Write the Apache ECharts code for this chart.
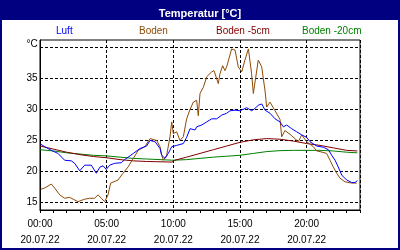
<!DOCTYPE html>
<html><head><meta charset="utf-8">
<script src="https://cdn.jsdelivr.net/npm/echarts@6/dist/echarts.min.js"></script>
<style>html,body{margin:0;padding:0;background:#fff}#c{width:400px;height:250px}</style>
</head><body><div id="c"></div>
<script>
var seriesNames = ['Luft', 'Boden', 'Boden -5cm', 'Boden -20cm'];
var seriesColors = ['#0000ff', '#8f4a06', '#800000', '#008000'];

var luftH = [0.05,0.35,0.85,1.35,1.85,2.35,2.6,2.98,3.35,3.85,4.22,4.5,4.73,4.97,5.23,5.6,6.1,6.35,7.0,7.5,8.0,8.25,8.63,9.0,9.13,9.38,9.62,9.88,10.25,10.75,11.0,11.25,11.63,11.75,12.13,12.5,12.88,13.25,13.63,14.0,14.25,14.63,15.0,15.13,15.5,15.88,16.13,16.37,16.63,16.88,17.25,17.63,18.0,18.25,18.5,18.88,19.25,19.63,20.0,20.25,20.75,21.25,21.63,21.88,22.13,22.37,22.63,23.0,23.38,23.63,23.8];
var luftV = [24.4,24.0,23.4,22.9,21.8,21.7,21.3,20.1,21.0,21.0,19.7,20.7,20.9,20.3,21.0,21.3,21.4,21.9,22.9,23.7,24.1,25.0,24.8,23.7,22.6,22.1,22.9,24.0,24.2,24.5,25.5,26.9,26.7,27.2,27.5,28.0,28.5,28.5,29.1,29.4,29.8,29.9,29.8,29.5,30.3,29.8,30.2,30.7,30.9,29.9,29.4,28.5,28.0,27.2,27.5,26.9,26.4,25.9,25.5,24.8,24.1,23.9,23.5,22.6,21.8,20.7,19.4,18.6,18.2,18.2,18.5];

var bodenH = [0.05,0.35,0.85,1.1,1.48,1.85,2.23,2.48,2.85,3.35,3.73,4.1,4.35,4.6,4.85,5.1,5.3,5.85,6.23,6.6,7.0,7.37,7.87,8.25,8.75,9.0,9.13,9.25,9.5,9.75,9.88,10.0,10.25,10.5,10.75,11.0,11.25,11.5,11.75,11.87,12.0,12.25,12.5,12.88,13.05,13.25,13.37,13.5,13.7,13.87,14.0,14.37,14.63,14.87,15.13,15.37,15.63,15.87,16.0,16.37,16.63,16.75,16.88,17.0,17.25,17.63,18.0,18.13,18.37,18.75,19.12,19.37,19.63,20.0,20.5,20.75,21.0,21.5,21.75,22.0,22.25,22.5,22.88,23.38,23.75];
var bodenV = [17.1,17.3,17.95,17.3,16.2,15.65,15.8,15.5,15.1,15.5,15.65,15.65,16.2,15.65,15.1,16.2,18.1,18.6,19.7,20.7,22.1,23.4,24.0,25.3,25.0,24.0,22.6,21.8,22.6,25.6,28.0,26.1,26.4,25.0,25.6,28.5,30.0,31.2,31.5,29.0,32.6,33.6,35.3,36.1,36.3,35.0,34.2,35.8,37.1,36.3,36.9,39.8,39.6,36.9,36.1,38.0,39.8,35.8,32.6,38.0,36.9,35.0,33.0,30.4,31.2,29.8,28.4,25.6,26.6,26.0,25.3,24.8,25.9,24.8,24.0,23.3,23.2,22.9,21.8,20.7,19.7,18.9,18.3,18.1,18.1];

var boden5H = [0,1,2,3,4,5,6,7,8,9,9.9,10.1,11,12,13,14,15,16,17,18,19,20,21,22,23,23.8];
var boden5V = [24.1,23.6,23.1,22.7,22.4,22.2,21.9,21.7,21.6,21.55,21.5,21.8,22.3,22.9,23.5,24.1,24.7,25.1,25.3,25.2,24.9,24.5,24.2,23.8,23.4,23.3];

var boden20H = [0,1,2,3,4,5,6,7,8,9,10,11,12,13,14,15,16,17,18,19,20,21,22,23,23.8];
var boden20V = [23.5,23.3,23.0,22.8,22.6,22.5,22.3,22.1,22.0,21.9,21.8,21.9,22.1,22.3,22.45,22.6,22.9,23.2,23.35,23.4,23.4,23.4,23.3,23.1,23.0];

var xLabelHours = [0, 5, 10, 15, 20];
var xTimeLabels = ['00:00', '05:00', '10:00', '15:00', '20:00'];
var xDateLabels = ['20.07.22', '20.07.22', '20.07.22', '20.07.22', '20.07.22'];
var xTickHours = [0,1,2,3,4,5,6,7,8,9,10,11,12,13,14,15,16,17,18,19,20,21,22,23,24];
var yTickValues = [15, 20, 25, 30, 35, 40];
var yUnitLabel = '°C';
var titleText = 'Temperatur [°C]';

function pairs(h, v) { return h.map(function (x, i) { return [x, v[i]]; }); }
var seriesH = [luftH, bodenH, boden5H, boden20H];
var seriesV = [luftV, bodenV, boden5V, boden20V];

var FONT = 'Liberation Sans';
var legendLeft = [50, 133, 210, 296];

var chart = echarts.init(document.getElementById('c'), null, { renderer: 'canvas' });
chart.setOption({
  animation: false,
  backgroundColor: '#ffffff',
  graphic: [
    { type: 'rect', shape: { x: 0, y: 0, width: 400, height: 20 }, style: { fill: '#000080' }, z: 0 },
    { type: 'rect', shape: { x: 1, y: 1, width: 398, height: 248 }, style: { fill: null, stroke: '#000080', lineWidth: 2 }, z: 0 }
  ],
  title: {
    text: titleText, left: 'center', top: 3,
    textStyle: { color: '#ffffff', fontFamily: FONT, fontSize: 11, fontWeight: 'bold' }
  },
  legend: seriesNames.map(function (n, i) {
    return {
      data: [n], left: legendLeft[i], top: 26, itemWidth: 0, itemHeight: 0, padding: 0,
      selectedMode: false,
      textStyle: { color: seriesColors[i], fontFamily: FONT, fontSize: 10 }
    };
  }),
  grid: { left: 40, right: 40, top: 40, bottom: 40, show: true, borderColor: '#000', borderWidth: 1, backgroundColor: 'transparent' },
  xAxis: [{
    type: 'value', min: 0, max: 24, position: 'bottom',
    axisLine: { show: true, lineStyle: { color: '#000', width: 1 } },
    axisTick: { show: true, inside: false, length: 3, customValues: xTickHours, lineStyle: { color: '#000' } },
    axisLabel: {
      customValues: xLabelHours, margin: 6, color: '#000', fontFamily: FONT, fontSize: 10, lineHeight: 16,
      formatter: function (v) { var i = xLabelHours.indexOf(v); return xTimeLabels[i] + '\n' + xDateLabels[i]; }
    },
    splitLine: { show: false }
  }, {
    type: 'value', min: 0, max: 24, interval: 5, position: 'top',
    axisLine: { show: false }, axisTick: { show: false }, axisLabel: { show: false },
    splitLine: { show: true, lineStyle: { color: '#000', type: [3, 2], width: 1 } }
  }],
  yAxis: {
    type: 'value', min: 13.75, max: 41.25,
    axisLine: { show: true, lineStyle: { color: '#000' } },
    axisTick: { show: false, customValues: yTickValues },
    axisLabel: {
      customValues: yTickValues, margin: 13.5, align: 'left', color: '#000', fontFamily: FONT, fontSize: 10,
      formatter: function (v) { return v === 40 ? '{u|' + yUnitLabel + '}' : String(v); },
      rich: { u: { fontFamily: FONT, fontSize: 10, color: '#000', padding: [0, 0, 6, 0] } }
    },
    splitLine: { show: true, lineStyle: { color: '#000', type: [3, 2], width: 1 } }
  },
  series: seriesNames.map(function (n, i) {
    return {
      name: n, type: 'line', xAxisIndex: 0, showSymbol: false, symbol: 'none', smooth: false,
      lineStyle: { color: seriesColors[i], width: 1 }, itemStyle: { color: seriesColors[i] },
      data: pairs(seriesH[i], seriesV[i]), z: 4 - i
    };
  })
});
</script></body></html>
